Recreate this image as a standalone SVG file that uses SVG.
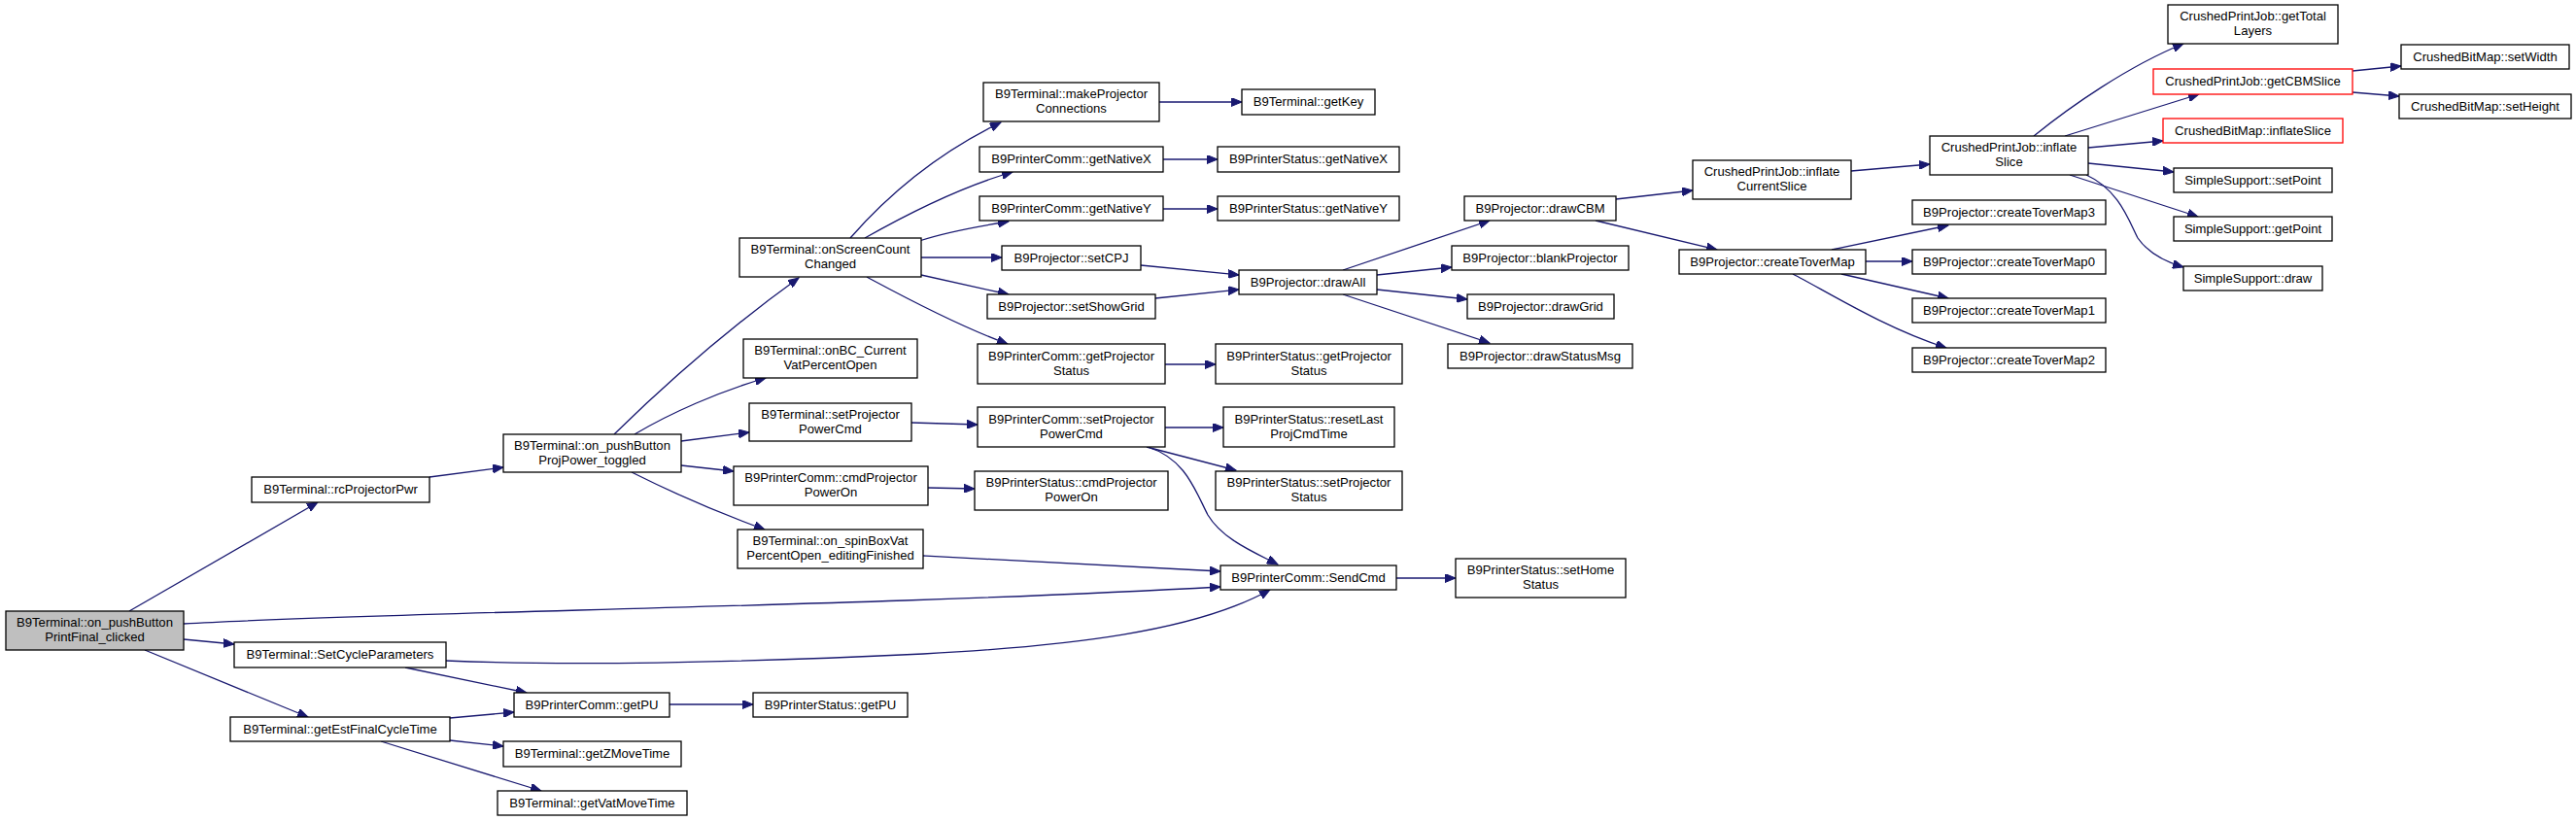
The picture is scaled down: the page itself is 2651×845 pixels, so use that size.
<svg xmlns="http://www.w3.org/2000/svg" width="2651" height="845" viewBox="0 0 2651 845">
<style>
.n rect{fill:#fff;stroke:#000;stroke-width:1.3}
.n.root rect{fill:#bfbfbf}
.n.red rect{stroke:#ff0000}
.n text{font-family:"Liberation Sans",Arial,sans-serif;font-size:13.1px;fill:#000;text-anchor:middle}
.e path{fill:none;stroke:#191970;stroke-width:1.3;marker-end:url(#ah)}
</style>
<defs>
<marker id="ah" markerUnits="userSpaceOnUse" markerWidth="12" markerHeight="9" refX="11" refY="4.5" orient="auto">
<path d="M0,0 L11,4.5 L0,9 z" fill="#191970" stroke="#191970" stroke-width="1"/>
</marker>
</defs>
<rect width="2651" height="845" fill="#fff"/>
<g id="connectors" class="e">
<path d="M133,629 L327,517"/>
<path d="M189,642 C400,630 900,624 1256,604"/>
<path d="M189,658 L241,663"/>
<path d="M149,669 L317,738"/>
<path d="M442,491 L518,481"/>
<path d="M632,447 C680,400 740,345 822,286"/>
<path d="M653,447 C690,425 740,403 788,389"/>
<path d="M701,454 L771,445"/>
<path d="M701,479 L755,485"/>
<path d="M650,486 C690,506 740,528 787,545"/>
<path d="M950,572 C1050,578 1150,583 1256,588"/>
<path d="M459,680 C600,686 800,680 950,673 C1100,665 1230,650 1307,607"/>
<path d="M417,687 L542,713"/>
<path d="M463,739 L529,733"/>
<path d="M463,762 L518,768"/>
<path d="M392,763 L557,814"/>
<path d="M689,725 L775,725"/>
<path d="M875,245 C910,205 960,160 1030,126"/>
<path d="M890,245 C920,228 980,195 1042,177"/>
<path d="M946,248 C970,240 1000,234 1038,228"/>
<path d="M948,265 L1031,265"/>
<path d="M948,283 L1038,303"/>
<path d="M892,285 C920,300 980,333 1037,354"/>
<path d="M1193,105 L1278,105"/>
<path d="M1197,164 L1253,164"/>
<path d="M1197,215 L1253,215"/>
<path d="M1174,273 L1275,283"/>
<path d="M1189,307 L1275,298"/>
<path d="M1199,375 L1251,375"/>
<path d="M938,435 L1006,437"/>
<path d="M955,502 L1003,503"/>
<path d="M1199,440 L1259,440"/>
<path d="M1180,460 L1272,484"/>
<path d="M1181,460 C1220,472 1230,505 1243,530 C1258,555 1290,568 1315,581"/>
<path d="M1437,595 L1498,595"/>
<path d="M1382,278 L1533,227"/>
<path d="M1417,283 L1494,275"/>
<path d="M1417,298 L1510,308"/>
<path d="M1382,303 L1533,353"/>
<path d="M1663,205 L1742,196"/>
<path d="M1642,227 L1767,257"/>
<path d="M1905,176 L1986,169"/>
<path d="M1885,257 L2005,232"/>
<path d="M1920,269 L1968,269"/>
<path d="M1895,282 L2005,307"/>
<path d="M1845,282 C1880,300 1940,338 2003,358"/>
<path d="M2093,140 C2130,110 2190,68 2247,45"/>
<path d="M2125,140 L2263,97"/>
<path d="M2149,152 L2226,145"/>
<path d="M2149,168 L2237,177"/>
<path d="M2130,180 L2262,223"/>
<path d="M2147,180 C2180,195 2190,225 2200,245 C2212,262 2230,270 2247,275"/>
<path d="M2421,73 L2471,68"/>
<path d="M2421,95 L2469,99"/>
</g>
<g id="n_root" class="n root"><rect x="6" y="629" width="183" height="40"/><text x="97.5" y="645">B9Terminal::on_pushButton</text><text x="97.5" y="660">PrintFinal_clicked</text></g>
<g id="n_rc" class="n"><rect x="259" y="491" width="183" height="26"/><text x="350.5" y="508">B9Terminal::rcProjectorPwr</text></g>
<g id="n_scp" class="n"><rect x="241" y="661" width="218" height="26"/><text x="350" y="678">B9Terminal::SetCycleParameters</text></g>
<g id="n_gefct" class="n"><rect x="237" y="738" width="226" height="25"/><text x="350" y="755">B9Terminal::getEstFinalCycleTime</text></g>
<g id="n_ppt" class="n"><rect x="518" y="447" width="183" height="39"/><text x="609.5" y="463">B9Terminal::on_pushButton</text><text x="609.5" y="478">ProjPower_toggled</text></g>
<g id="n_oscc" class="n"><rect x="761" y="245" width="187" height="40"/><text x="854.5" y="261">B9Terminal::onScreenCount</text><text x="854.5" y="276">Changed</text></g>
<g id="n_obc" class="n"><rect x="765" y="349" width="179" height="40"/><text x="854.5" y="365">B9Terminal::onBC_Current</text><text x="854.5" y="380">VatPercentOpen</text></g>
<g id="n_tsppc" class="n"><rect x="771" y="415" width="167" height="39"/><text x="854.5" y="431">B9Terminal::setProjector</text><text x="854.5" y="446">PowerCmd</text></g>
<g id="n_pccpo" class="n"><rect x="755" y="480" width="200" height="40"/><text x="855" y="496">B9PrinterComm::cmdProjector</text><text x="855" y="511">PowerOn</text></g>
<g id="n_sbv" class="n"><rect x="759" y="545" width="191" height="40"/><text x="854.5" y="561">B9Terminal::on_spinBoxVat</text><text x="854.5" y="576">PercentOpen_editingFinished</text></g>
<g id="n_pcgpu" class="n"><rect x="529" y="713" width="160" height="25"/><text x="609" y="730">B9PrinterComm::getPU</text></g>
<g id="n_psgpu" class="n"><rect x="775" y="713" width="159" height="25"/><text x="854.5" y="730">B9PrinterStatus::getPU</text></g>
<g id="n_gzmt" class="n"><rect x="518" y="763" width="183" height="26"/><text x="609.5" y="780">B9Terminal::getZMoveTime</text></g>
<g id="n_gvmt" class="n"><rect x="512" y="814" width="195" height="25"/><text x="609.5" y="831">B9Terminal::getVatMoveTime</text></g>
<g id="n_mpc" class="n"><rect x="1012" y="85" width="181" height="40"/><text x="1102.5" y="101">B9Terminal::makeProjector</text><text x="1102.5" y="116">Connections</text></g>
<g id="n_gk" class="n"><rect x="1278" y="92" width="137" height="26"/><text x="1346.5" y="109">B9Terminal::getKey</text></g>
<g id="n_pcgnx" class="n"><rect x="1008" y="151" width="189" height="26"/><text x="1102.5" y="168">B9PrinterComm::getNativeX</text></g>
<g id="n_psgnx" class="n"><rect x="1253" y="151" width="187" height="26"/><text x="1346.5" y="168">B9PrinterStatus::getNativeX</text></g>
<g id="n_pcgny" class="n"><rect x="1008" y="202" width="189" height="25"/><text x="1102.5" y="219">B9PrinterComm::getNativeY</text></g>
<g id="n_psgny" class="n"><rect x="1253" y="202" width="187" height="25"/><text x="1346.5" y="219">B9PrinterStatus::getNativeY</text></g>
<g id="n_scpj" class="n"><rect x="1031" y="253" width="143" height="25"/><text x="1102.5" y="270">B9Projector::setCPJ</text></g>
<g id="n_da" class="n"><rect x="1275" y="278" width="142" height="25"/><text x="1346" y="295">B9Projector::drawAll</text></g>
<g id="n_ssg" class="n"><rect x="1016" y="303" width="173" height="25"/><text x="1102.5" y="320">B9Projector::setShowGrid</text></g>
<g id="n_pcgps" class="n"><rect x="1006" y="354" width="193" height="41"/><text x="1102.5" y="371">B9PrinterComm::getProjector</text><text x="1102.5" y="386">Status</text></g>
<g id="n_psgps" class="n"><rect x="1251" y="354" width="192" height="41"/><text x="1347" y="371">B9PrinterStatus::getProjector</text><text x="1347" y="386">Status</text></g>
<g id="n_pcsppc" class="n"><rect x="1006" y="419" width="193" height="41"/><text x="1102.5" y="436">B9PrinterComm::setProjector</text><text x="1102.5" y="451">PowerCmd</text></g>
<g id="n_psrl" class="n"><rect x="1259" y="419" width="176" height="41"/><text x="1347" y="436">B9PrinterStatus::resetLast</text><text x="1347" y="451">ProjCmdTime</text></g>
<g id="n_pscpo" class="n"><rect x="1003" y="485" width="199" height="40"/><text x="1102.5" y="501">B9PrinterStatus::cmdProjector</text><text x="1102.5" y="516">PowerOn</text></g>
<g id="n_pssps" class="n"><rect x="1251" y="485" width="192" height="40"/><text x="1347" y="501">B9PrinterStatus::setProjector</text><text x="1347" y="516">Status</text></g>
<g id="n_sc" class="n"><rect x="1256" y="582" width="181" height="25"/><text x="1346.5" y="599">B9PrinterComm::SendCmd</text></g>
<g id="n_shs" class="n"><rect x="1498" y="575" width="175" height="40"/><text x="1585.5" y="591">B9PrinterStatus::setHome</text><text x="1585.5" y="606">Status</text></g>
<g id="n_dcbm" class="n"><rect x="1507" y="202" width="156" height="25"/><text x="1585" y="219">B9Projector::drawCBM</text></g>
<g id="n_bp" class="n"><rect x="1494" y="253" width="182" height="25"/><text x="1585" y="270">B9Projector::blankProjector</text></g>
<g id="n_dg" class="n"><rect x="1510" y="303" width="151" height="25"/><text x="1585.5" y="320">B9Projector::drawGrid</text></g>
<g id="n_dsm" class="n"><rect x="1490" y="354" width="190" height="25"/><text x="1585" y="371">B9Projector::drawStatusMsg</text></g>
<g id="n_ics" class="n"><rect x="1742" y="165" width="163" height="40"/><text x="1823.5" y="181">CrushedPrintJob::inflate</text><text x="1823.5" y="196">CurrentSlice</text></g>
<g id="n_ctm" class="n"><rect x="1728" y="257" width="192" height="25"/><text x="1824" y="274">B9Projector::createToverMap</text></g>
<g id="n_is" class="n"><rect x="1986" y="140" width="163" height="40"/><text x="2067.5" y="156">CrushedPrintJob::inflate</text><text x="2067.5" y="171">Slice</text></g>
<g id="n_ctm3" class="n"><rect x="1968" y="206" width="199" height="25"/><text x="2067.5" y="223">B9Projector::createToverMap3</text></g>
<g id="n_ctm0" class="n"><rect x="1968" y="257" width="199" height="25"/><text x="2067.5" y="274">B9Projector::createToverMap0</text></g>
<g id="n_ctm1" class="n"><rect x="1968" y="307" width="199" height="25"/><text x="2067.5" y="324">B9Projector::createToverMap1</text></g>
<g id="n_ctm2" class="n"><rect x="1968" y="358" width="199" height="25"/><text x="2067.5" y="375">B9Projector::createToverMap2</text></g>
<g id="n_gtl" class="n"><rect x="2231" y="5" width="175" height="40"/><text x="2318.5" y="21">CrushedPrintJob::getTotal</text><text x="2318.5" y="36">Layers</text></g>
<g id="n_gcbm" class="n red"><rect x="2216" y="71" width="205" height="26"/><text x="2318.5" y="88">CrushedPrintJob::getCBMSlice</text></g>
<g id="n_cbmis" class="n red"><rect x="2226" y="122" width="185" height="25"/><text x="2318.5" y="139">CrushedBitMap::inflateSlice</text></g>
<g id="n_sp" class="n"><rect x="2237" y="173" width="163" height="25"/><text x="2318.5" y="190">SimpleSupport::setPoint</text></g>
<g id="n_gp" class="n"><rect x="2237" y="223" width="163" height="25"/><text x="2318.5" y="240">SimpleSupport::getPoint</text></g>
<g id="n_dr" class="n"><rect x="2247" y="274" width="143" height="25"/><text x="2318.5" y="291">SimpleSupport::draw</text></g>
<g id="n_sw" class="n"><rect x="2471" y="46" width="173" height="25"/><text x="2557.5" y="63">CrushedBitMap::setWidth</text></g>
<g id="n_sh" class="n"><rect x="2469" y="97" width="177" height="25"/><text x="2557.5" y="114">CrushedBitMap::setHeight</text></g>
</svg>
